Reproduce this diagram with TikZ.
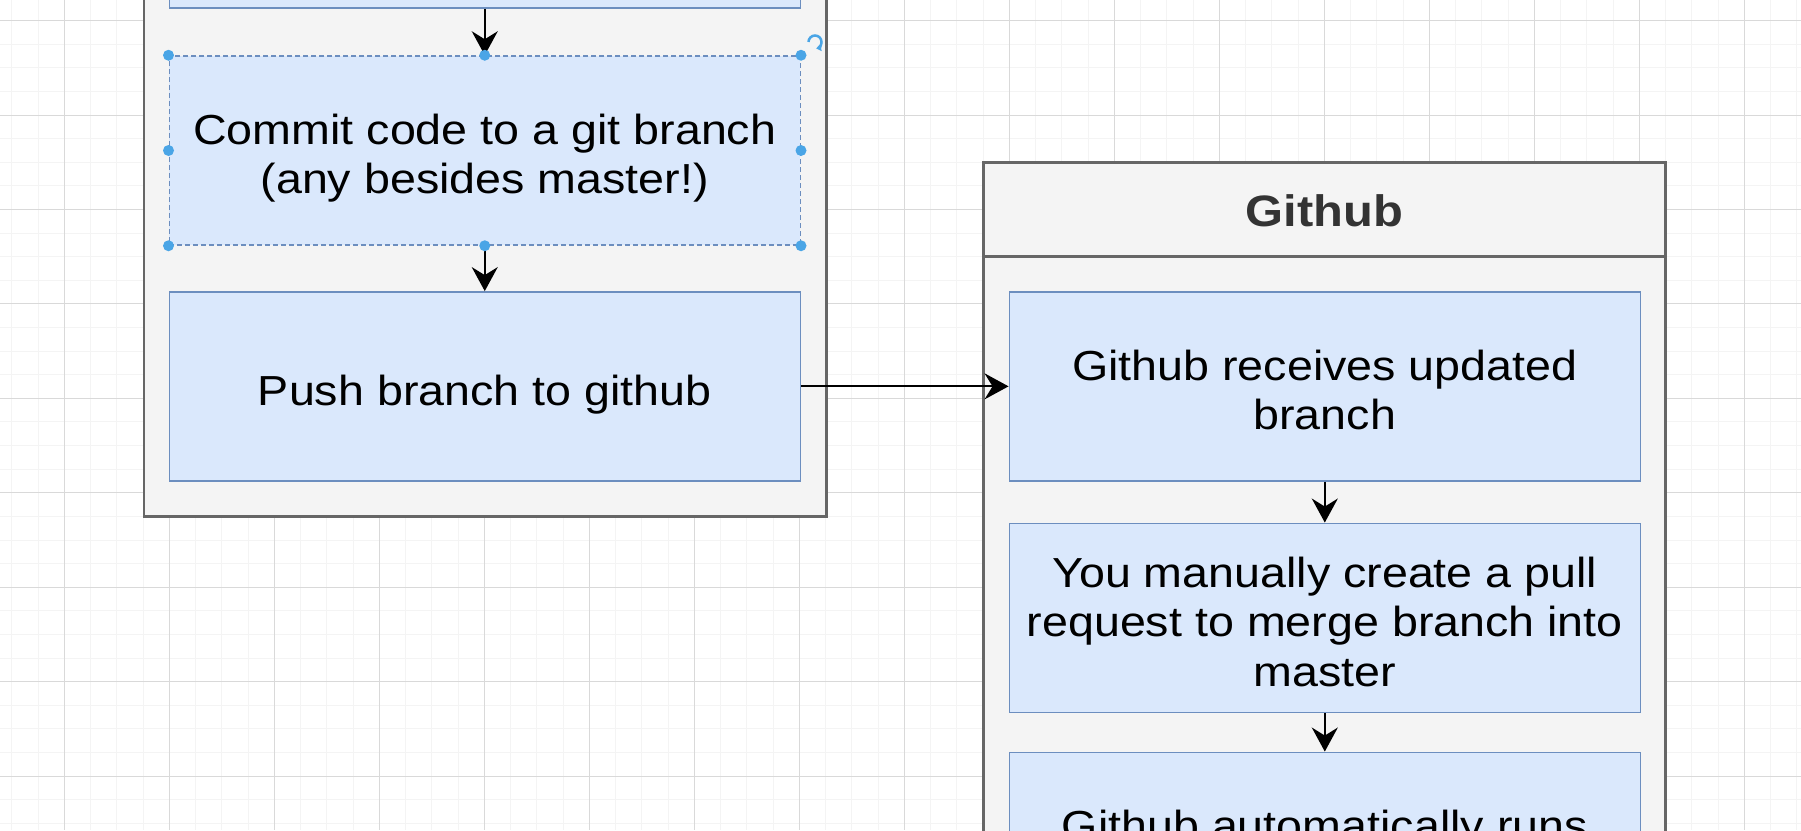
\documentclass[tikz,border=0pt]{standalone}
\usepackage{fontspec}
\setmainfont{Liberation Sans}[FakeStretch=1.11]
\usetikzlibrary{arrows.meta}
\setlength{\lineskiplimit}{-100pt}
\definecolor{boxfill}{HTML}{DAE8FC}
\definecolor{boxline}{HTML}{6C8EBF}
\definecolor{contfill}{HTML}{F4F4F4}
\definecolor{contline}{HTML}{666666}
\definecolor{titlecol}{HTML}{333333}
\definecolor{gridminor}{HTML}{F4F4F4}
\definecolor{gridmajor}{HTML}{D9D9D9}
\definecolor{handlecol}{HTML}{4AA5E6}
\newcommand{\sr}{\rule[-9pt]{0pt}{55.4pt}}
\newcommand{\srt}{\rule[-7pt]{0pt}{48.8pt}}
\tikzset{
  container/.style={draw=contline, fill=contfill, line width=2.5pt, rectangle, inner sep=0pt},
  stepbox/.style={draw=boxline, fill=boxfill, line width=1.5pt, rectangle, inner sep=0pt,
    minimum width=631pt, minimum height=189pt, align=center,
    font=\fontsize{42}{49.5}\selectfont},
  titletext/.style={font=\fontsize{44}{49.5}\selectfont\bfseries, text=titlecol, inner sep=0pt},
  flow/.style={draw=black, line width=2pt, -{Stealth[length=24pt,width=26pt,inset=8pt]}},
  handle/.style={circle, fill=handlecol, draw=none, minimum size=11pt, inner sep=0pt},
}
\begin{document}
\begin{tikzpicture}[x=1pt,y=-1pt]
\useasboundingbox (0,0) rectangle (1801,830);
\clip (0,0) rectangle (1801,830);
\fill[white] (0,0) rectangle (1801,830);
% grid
\foreach \k in {0,...,68} {\draw[gridminor, line width=1pt] (11.8+26.25*\k,0) -- (11.8+26.25*\k,830);}
\foreach \k in {0,...,35} {\draw[gridminor, line width=1pt] (0,20.6+23.61*\k) -- (1801,20.6+23.61*\k);}
\foreach \k in {0,...,17} {\draw[gridmajor, line width=1pt] (64.3+105*\k,0) -- (64.3+105*\k,830);}
\foreach \k in {0,...,8} {\draw[gridmajor, line width=1pt] (0,20.6+94.43*\k) -- (1801,20.6+94.43*\k);}
% containers
\node[container, minimum width=682.5pt, minimum height=616.7pt] (devc) at (485.05,208.35) {};
\node[container, minimum width=682.2pt, minimum height=837.7pt] (ghc) at (1324.6,581.15) {};
\coordinate (hl) at (0,256.7);
\draw[contline, line width=2.5pt] (ghc.west |- hl) -- (ghc.east |- hl);
\node[titletext] (ght) at (1324.6,209.5) {\srt Github};
% left column
\node[stepbox] (c1) at (484.75,-86.35) {};
\node[stepbox, dash pattern=on 5pt off 3pt] (c2) at (484.75,150.5) {\sr Commit code to a git branch\\\sr (any besides master!)};
\node[stepbox] (c3) at (484.75,386.35) {\sr Push branch to github};
% github column
\node[stepbox] (g1) at (1324.8,386.35) {\sr Github receives updated\\\sr branch};
\node[stepbox] (g2) at (1324.8,617.8) {\sr You manually create a pull\\\sr request to merge branch into\\\sr master};
\node[stepbox] (g3) at (1324.8,846.8) {\sr Github automatically runs\\\sr};
% connectors
\draw[flow] (c1.south) -- (c2.north);
\draw[flow] (c2.south) -- (c3.north);
\draw[flow] (c3.east) -- (g1.west);
\draw[flow] (g1.south) -- (g2.north);
\draw[flow] (g2.south) -- (g3.north);
% selection handles
\foreach \a in {north west,north,north east,west,east,south west,south,south east} {
  \node[handle] at (c2.\a) {};
}
\coordinate (rot) at (815,42);
\draw[handlecol, line width=2.5pt, -{Triangle[length=5pt,width=7pt]}] ([shift={(-6.5,0)}]rot) arc[start angle=180, end angle=-80, radius=6.5pt];
\end{tikzpicture}
\end{document}
